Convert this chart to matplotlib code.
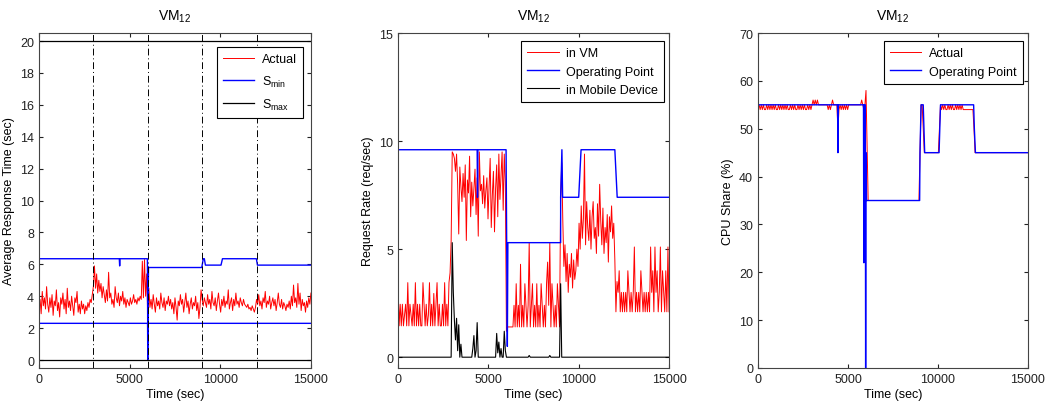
import matplotlib

matplotlib.use("Agg")
import matplotlib.pyplot as plt
import numpy as np

plt.rcParams["font.family"] = ["Liberation Sans Narrow", "Liberation Sans", "DejaVu Sans"]
plt.rcParams["font.size"] = 9
plt.rcParams["mathtext.default"] = "regular"

STEP = 60  # sampling period of the noisy series (sec)

# ── panel 1: average response time (sec) ───────────────────────────────────
resp_actual = [
    3.1, 3.8, 2.9, 4.3, 3.4, 3.9, 3.2, 4.6, 3.5, 3.0,
    3.9, 3.3, 4.1, 2.8, 3.7, 3.4, 4.4, 3.1, 3.6, 2.7,
    3.9, 3.5, 4.2, 3.2, 3.8, 2.9, 4.5, 3.3, 3.7, 3.1,
    4.0, 3.4, 2.8, 3.9, 3.6, 4.3, 3.0, 3.5, 2.9, 3.7,
    3.2, 3.5, 2.9, 3.4, 3.1, 3.6, 3.3, 3.8, 3.6, 4.1,
    4.6, 5.9, 4.5, 5.4, 4.2, 5.0, 4.3, 4.8, 3.9, 4.6,
    4.1, 3.6, 4.4, 3.7, 5.5, 3.9, 4.2, 3.5, 3.8, 3.3,
    4.6, 3.9, 3.6, 4.2, 3.4, 4.0, 3.7, 4.3, 3.5, 3.9,
    3.3, 3.8, 3.6, 3.4, 3.9, 3.5, 3.7, 4.1, 3.6, 3.8,
    3.5, 3.9, 3.7, 4.0, 3.8, 6.2, 3.9, 6.3, 4.0, 5.4,
    2.7, 4.5, 3.3, 3.8, 3.2, 4.1, 3.5, 3.0, 3.9, 3.4,
    3.7, 3.2, 4.2, 3.6, 3.3, 3.9, 3.1, 3.7, 3.5, 4.0,
    3.4, 3.8, 3.2, 3.6, 2.9, 3.9, 3.3, 2.5, 3.7, 3.4,
    4.1, 3.5, 3.8, 3.0, 3.6, 4.2, 3.3, 3.7, 2.9, 3.5,
    3.9, 3.2, 3.6, 3.4, 4.0, 3.1, 3.6, 2.6, 3.3, 4.4,
    3.8, 3.4, 3.9, 3.6, 3.3, 4.1, 3.5, 3.8, 3.2, 4.3,
    3.6, 3.4, 3.9, 3.1, 3.7, 4.2, 3.5, 3.0, 3.8, 3.4,
    4.0, 3.3, 3.7, 3.5, 4.4, 3.2, 3.6, 3.9, 3.1, 3.8,
    3.4, 4.2, 3.5, 3.7, 3.3, 3.9, 3.6, 3.4, 3.8, 3.5,
    3.4, 3.3, 3.5, 3.2, 3.3, 3.1, 3.4, 3.2, 3.0, 3.3,
    3.8, 3.5, 4.1, 3.4, 3.7, 3.2, 3.9, 3.6, 4.3, 3.3,
    3.7, 3.5, 4.0, 3.2, 3.6, 3.9, 3.4, 3.8, 3.1, 3.6,
    4.2, 3.5, 3.3, 3.8, 3.2, 3.6, 3.4, 3.1, 3.5, 3.3,
    3.7, 3.2, 4.0, 3.4, 4.7, 3.6, 3.9, 3.3, 4.8, 3.5,
    4.2, 3.1, 3.8, 3.4, 3.6, 3.0, 3.7, 3.3, 3.9, 3.5, 4.2,
]
smin_hi_t = [0, 4430, 4450, 4470, 5980, 6000, 6040, 8980, 9060, 9120, 9180,
             10040, 10120, 11990, 12050, 15000]
smin_hi_v = [6.35, 6.35, 5.9, 6.35, 6.35, 1.1, 5.8, 5.8, 6.35, 6.35, 5.95,
             5.95, 6.35, 6.35, 5.95, 5.95]
smin_lo_t = [0, 5990, 6000, 6010, 15000]
smin_lo_v = [2.3, 2.3, 0.0, 2.3, 2.3]
smax_levels = [20, 0]
phase_marks = [3000, 6000, 9000, 12000]

# ── panel 2: request rate (req/sec) ────────────────────────────────────────
rate_vm = [
    3.45, 1.45, 2.45, 1.45, 2.45, 1.45, 1.95, 2.45, 1.45, 3.45,
    1.45, 2.45, 1.95, 1.45, 2.45, 1.45, 3.45, 1.45, 2.45, 1.45,
    2.45, 1.45, 1.45, 3.45, 2.45, 1.45, 2.45, 1.45, 1.95, 3.45,
    1.45, 2.45, 1.45, 2.95, 1.45, 2.45, 3.45, 1.45, 2.45, 1.45,
    1.45, 2.45, 1.45, 3.45, 1.45, 2.45, 1.45, 3.45, 3.9, 5.4,
    9.5, 9.4, 9.2, 8.6, 9.4, 8.0, 5.7, 8.8, 7.9, 7.2,
    8.5, 7.4, 8.9, 5.4, 8.2, 7.6, 9.3, 6.5, 8.1, 7.0,
    7.8, 8.7, 6.6, 8.3, 5.6, 9.5, 7.7, 8.0, 7.1, 8.4,
    6.9, 7.7, 8.3, 6.4, 7.9, 9.2, 6.0, 7.5, 8.6, 5.8,
    7.8, 8.9, 6.5, 9.4, 7.3, 8.4, 9.5, 6.8, 9.4, 8.1,
    1.2, 1.4, 1.4, 1.4, 1.4, 1.4, 1.4, 2.4, 1.4, 3.4,
    1.4, 2.4, 1.4, 4.3, 1.4, 2.4, 1.4, 3.4, 2.4, 1.4,
    2.4, 5.3, 1.4, 2.4, 3.4, 1.4, 2.4, 1.4, 3.4, 1.4,
    2.4, 1.4, 3.4, 2.4, 1.4, 2.4, 1.4, 3.4, 4.4, 2.4,
    5.3, 1.4, 3.4, 2.4, 1.4, 2.4, 1.4, 3.4, 2.4, 1.4,
    7.4, 9.0, 6.3, 4.2, 5.2, 3.5, 4.8, 3.0, 4.3, 3.7,
    4.8, 3.2, 4.5, 3.6, 4.0, 5.0, 4.2, 6.2, 5.0, 7.0,
    5.5, 6.4, 9.4, 5.2, 7.2, 6.0, 5.4, 6.8, 5.0, 6.5,
    7.2, 5.5, 6.0, 4.8, 7.1, 5.6, 8.0, 6.3, 5.2, 6.9,
    4.8, 6.0, 5.3, 6.6, 4.4, 6.5, 5.8, 7.0, 5.5, 6.2,
    4.5, 2.1, 3.5, 3.0, 4.0, 2.1, 3.0, 2.1, 3.0, 2.1,
    3.0, 2.1, 4.0, 3.0, 2.1, 3.0, 2.1, 3.0, 5.1, 2.1,
    3.0, 2.1, 3.0, 2.1, 4.0, 3.0, 2.1, 3.0, 2.1, 3.0,
    2.1, 3.0, 2.1, 5.1, 3.0, 4.0, 2.1, 5.1, 3.0, 4.0,
    2.1, 3.0, 5.1, 2.1, 4.0, 3.0, 2.1, 4.0, 2.1, 5.1, 2.1,
]
rate_mobile = (
    [0.0] * 50
    + [5.3, 3.0, 1.7, 0.8, 1.8, 0.3, 1.5, 0.0, 0.6, 0.0]
    + [0.0] * 9 + [0.4]
    + [1.0, 0.0, 0.3, 1.6, 0.0, 0.0, 0.0, 0.0, 0.0, 0.0]
    + [0.0] * 10
    + [0.0, 1.1, 0.2, 0.7, 0.0, 0.4, 0.0, 0.0, 1.2, 0.3]
    + [0.0] * 21 + [0.08]
    + [0.0] * 18 + [0.08]
    + [0.0] * 9 + [3.4]
    + [0.0] * 100
)
op_rate_t = [0, 4380, 4400, 4420, 5980, 6050, 6080, 9000, 9000, 9070, 9110,
             10000, 10130, 12000, 12130, 15000]
op_rate_v = [9.6, 9.6, 7.4, 9.6, 9.6, 0.5, 5.3, 5.3, 7.4, 9.6, 7.4,
             7.4, 9.6, 9.6, 7.4, 7.4]

# ── panel 3: CPU share (%) ─────────────────────────────────────────────────
cpu_actual = (
    [54, 55, 54, 55, 54, 55, 54, 54, 55, 54,
     55, 54, 55, 54, 55, 54, 55, 54, 54, 55,
     54, 55, 54, 55, 54, 55, 54, 55, 54, 54,
     55, 54, 55, 54, 55, 54, 54, 55, 54, 55,
     54, 55, 54, 55, 54, 54, 55, 54, 55, 54]
    + [55, 56, 55, 56, 55, 56]
    + [55] * 9
    + [54, 55, 54, 55, 56]
    + [55, 55, 55, 55, 50]
    + [54, 55, 54, 55, 54, 55, 54, 55, 54]
    + [55] * 12
    + [56, 55, 54, 55, 58, 46]
    + [35] * 48
    + [45, 55, 55, 50]
    + [45] * 14
    + [50]
    + [55, 54, 55, 54, 55, 54, 54, 55, 54, 55,
       54, 55, 54, 54, 55, 54, 55, 54, 55, 54, 55]
    + [54] * 10
    + [50]
    + [45] * 50
)
op_cpu_t = [0, 4420, 4440, 4460, 5860, 5880, 5900, 5960, 5980, 6000, 6030,
            8980, 9000, 9060, 9180, 9220, 9260, 10060, 10100, 10140,
            11980, 12020, 12080, 15000]
op_cpu_v = [55, 55, 45, 55, 55, 22, 55, 55, 0, 45, 35,
            35, 45, 55, 55, 50, 45, 45, 50, 55,
            55, 50, 45, 45]


def grid(series):
    return STEP * np.arange(len(series))


def style(ax, ylim, yticks, ylabel):
    ax.set_xlim(0, 15000)
    ax.set_ylim(*ylim)
    ax.set_xticks([0, 5000, 10000, 15000])
    ax.set_yticks(yticks)
    ax.tick_params(direction="in", top=True, right=True, length=3,
                   labelsize=9, colors="#222222")
    for s in ax.spines.values():
        s.set_color("#444444")
        s.set_linewidth(0.8)
    ax.set_xlabel("Time (sec)", labelpad=2)
    ax.set_ylabel(ylabel, labelpad=4)
    ax.set_title("VM$_{12}$", fontsize=10, pad=10)


def legend(ax, anchor, spacing):
    leg = ax.legend(loc="upper right", bbox_to_anchor=anchor,
                    fancybox=False, framealpha=1, edgecolor="black",
                    fontsize=9, handlelength=2.5, handletextpad=0.6,
                    labelspacing=spacing, borderaxespad=0, borderpad=0.5)
    leg.get_frame().set_linewidth(0.8)


fig = plt.figure(figsize=(10.48, 4.10), dpi=100)
ax1 = fig.add_axes([0.0372, 0.100, 0.2595, 0.817])
ax2 = fig.add_axes([0.3798, 0.100, 0.2586, 0.817])
ax3 = fig.add_axes([0.7233, 0.100, 0.2576, 0.817])

# panel 1
ax1.plot(grid(resp_actual), resp_actual, color="red", lw=0.7, label="Actual")
ax1.plot(smin_hi_t, smin_hi_v, color="blue", lw=1.0, label="S$_{min}$")
ax1.plot(smin_lo_t, smin_lo_v, color="blue", lw=1.0)
for i, lev in enumerate(smax_levels):
    ax1.axhline(lev, color="black", lw=0.9,
                label="S$_{max}$" if i == 0 else None)
for x in phase_marks:
    ax1.axvline(x, color="black", lw=0.7, ls=(0, (7, 3, 1, 3)))
style(ax1, (-0.5, 20.5), range(0, 21, 2), "Average Response Time (sec)")
legend(ax1, (0.971, 0.958), 0.65)

# panel 2
ax2.plot(grid(rate_vm), rate_vm, color="red", lw=0.7, label="in VM")
ax2.plot(op_rate_t, op_rate_v, color="blue", lw=1.0, label="Operating Point")
ax2.plot(grid(rate_mobile), rate_mobile, color="black", lw=0.8,
         label="in Mobile Device")
style(ax2, (-0.5, 15), [0, 5, 10, 15], "Request Rate (req/sec)")
legend(ax2, (0.982, 0.976), 0.5)

# panel 3
ax3.plot(grid(cpu_actual), cpu_actual, color="red", lw=0.7, label="Actual")
ax3.plot(op_cpu_t, op_cpu_v, color="blue", lw=1.0, label="Operating Point")
style(ax3, (0, 70), range(0, 71, 10), "CPU Share (%)")
legend(ax3, (0.981, 0.976), 0.5)

fig.savefig("out.png", dpi=100)
